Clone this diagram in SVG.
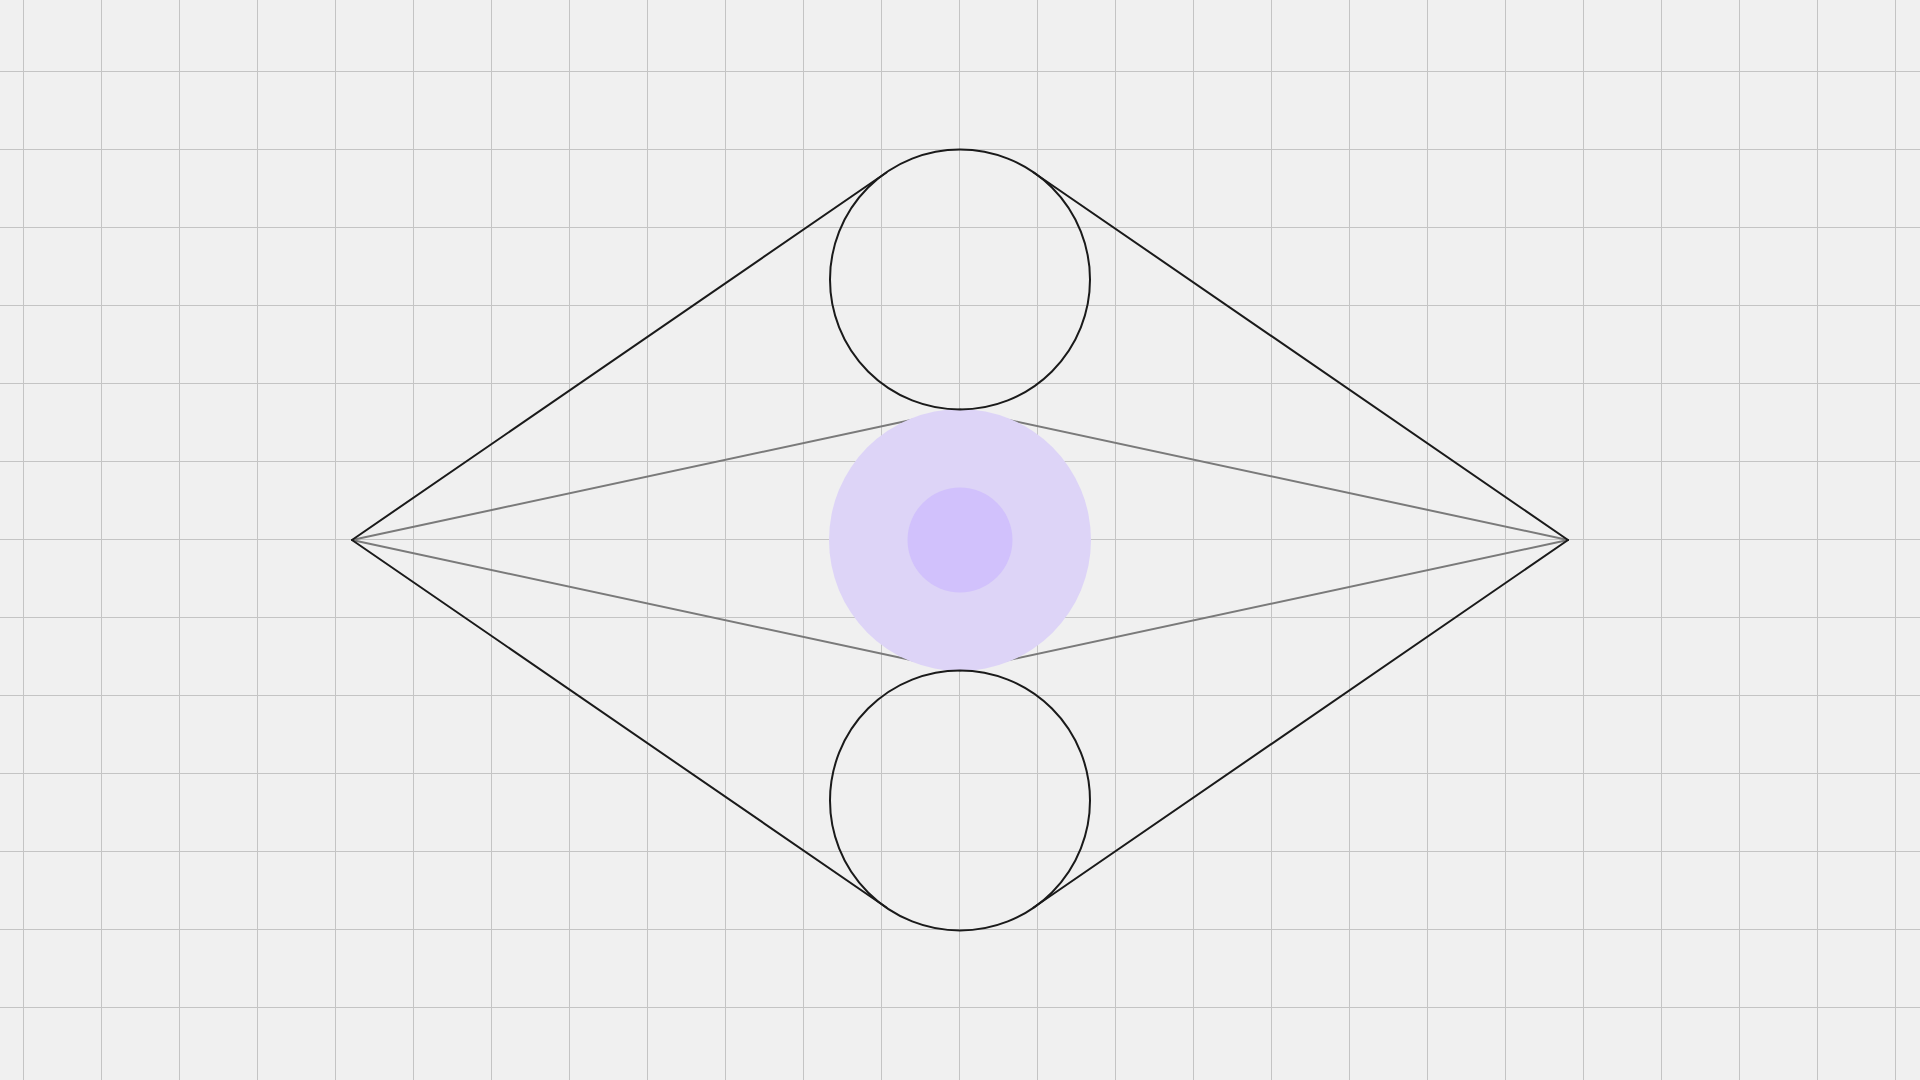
<svg xmlns="http://www.w3.org/2000/svg" width="1920" height="1080" viewBox="0 0 1920 1080">
  <style>
    .grid { stroke: #c4c4c4; stroke-width: 1; fill: none; }
    .edge { stroke: #1a1a1a; stroke-width: 2; fill: none; stroke-linecap: round; }
    .guide { stroke: #7a7a7a; stroke-width: 2; fill: none; stroke-linecap: round; }
    .ring { stroke: #1a1a1a; stroke-width: 2; fill: none; }
  </style>
  <rect width="1920" height="1080" fill="#f0f0f0"/>
  <g id="grid" class="grid">
    <path d="M23.5 0V1080M101.5 0V1080M179.5 0V1080M257.5 0V1080M335.5 0V1080M413.5 0V1080M491.5 0V1080M569.5 0V1080M647.5 0V1080M725.5 0V1080M803.5 0V1080M881.5 0V1080M959.5 0V1080M1037.5 0V1080M1115.5 0V1080M1193.5 0V1080M1271.5 0V1080M1349.5 0V1080M1427.5 0V1080M1505.5 0V1080M1583.5 0V1080M1661.5 0V1080M1739.5 0V1080M1817.5 0V1080M1895.5 0V1080"/>
    <path d="M0 71.5H1920M0 149.5H1920M0 227.5H1920M0 305.5H1920M0 383.5H1920M0 461.5H1920M0 539.5H1920M0 617.5H1920M0 695.5H1920M0 773.5H1920M0 851.5H1920M0 929.5H1920M0 1007.5H1920"/>
  </g>
  <g id="connectors">
    <g id="guides" class="guide">
      <line x1="352" y1="540" x2="960" y2="409.5"/>
      <line x1="352" y1="540" x2="960" y2="670.5"/>
      <line x1="1568" y1="540" x2="960" y2="409.5"/>
      <line x1="1568" y1="540" x2="960" y2="670.5"/>
    </g>
    <g id="tangents" class="edge">
      <line x1="352" y1="540" x2="886.4" y2="172.5"/>
      <line x1="1568" y1="540" x2="1033.6" y2="172.5"/>
      <line x1="352" y1="540" x2="886.4" y2="907.5"/>
      <line x1="1568" y1="540" x2="1033.6" y2="907.5"/>
    </g>
  </g>
  <g id="center-node">
    <circle cx="960" cy="540" r="131" fill="#ddd4f7"/>
    <circle cx="960" cy="540" r="52.5" fill="#d1c1fc"/>
  </g>
  <g id="top-node">
    <circle class="ring" cx="960" cy="279.5" r="130"/>
  </g>
  <g id="bottom-node">
    <circle class="ring" cx="960" cy="800.5" r="130"/>
  </g>
</svg>
